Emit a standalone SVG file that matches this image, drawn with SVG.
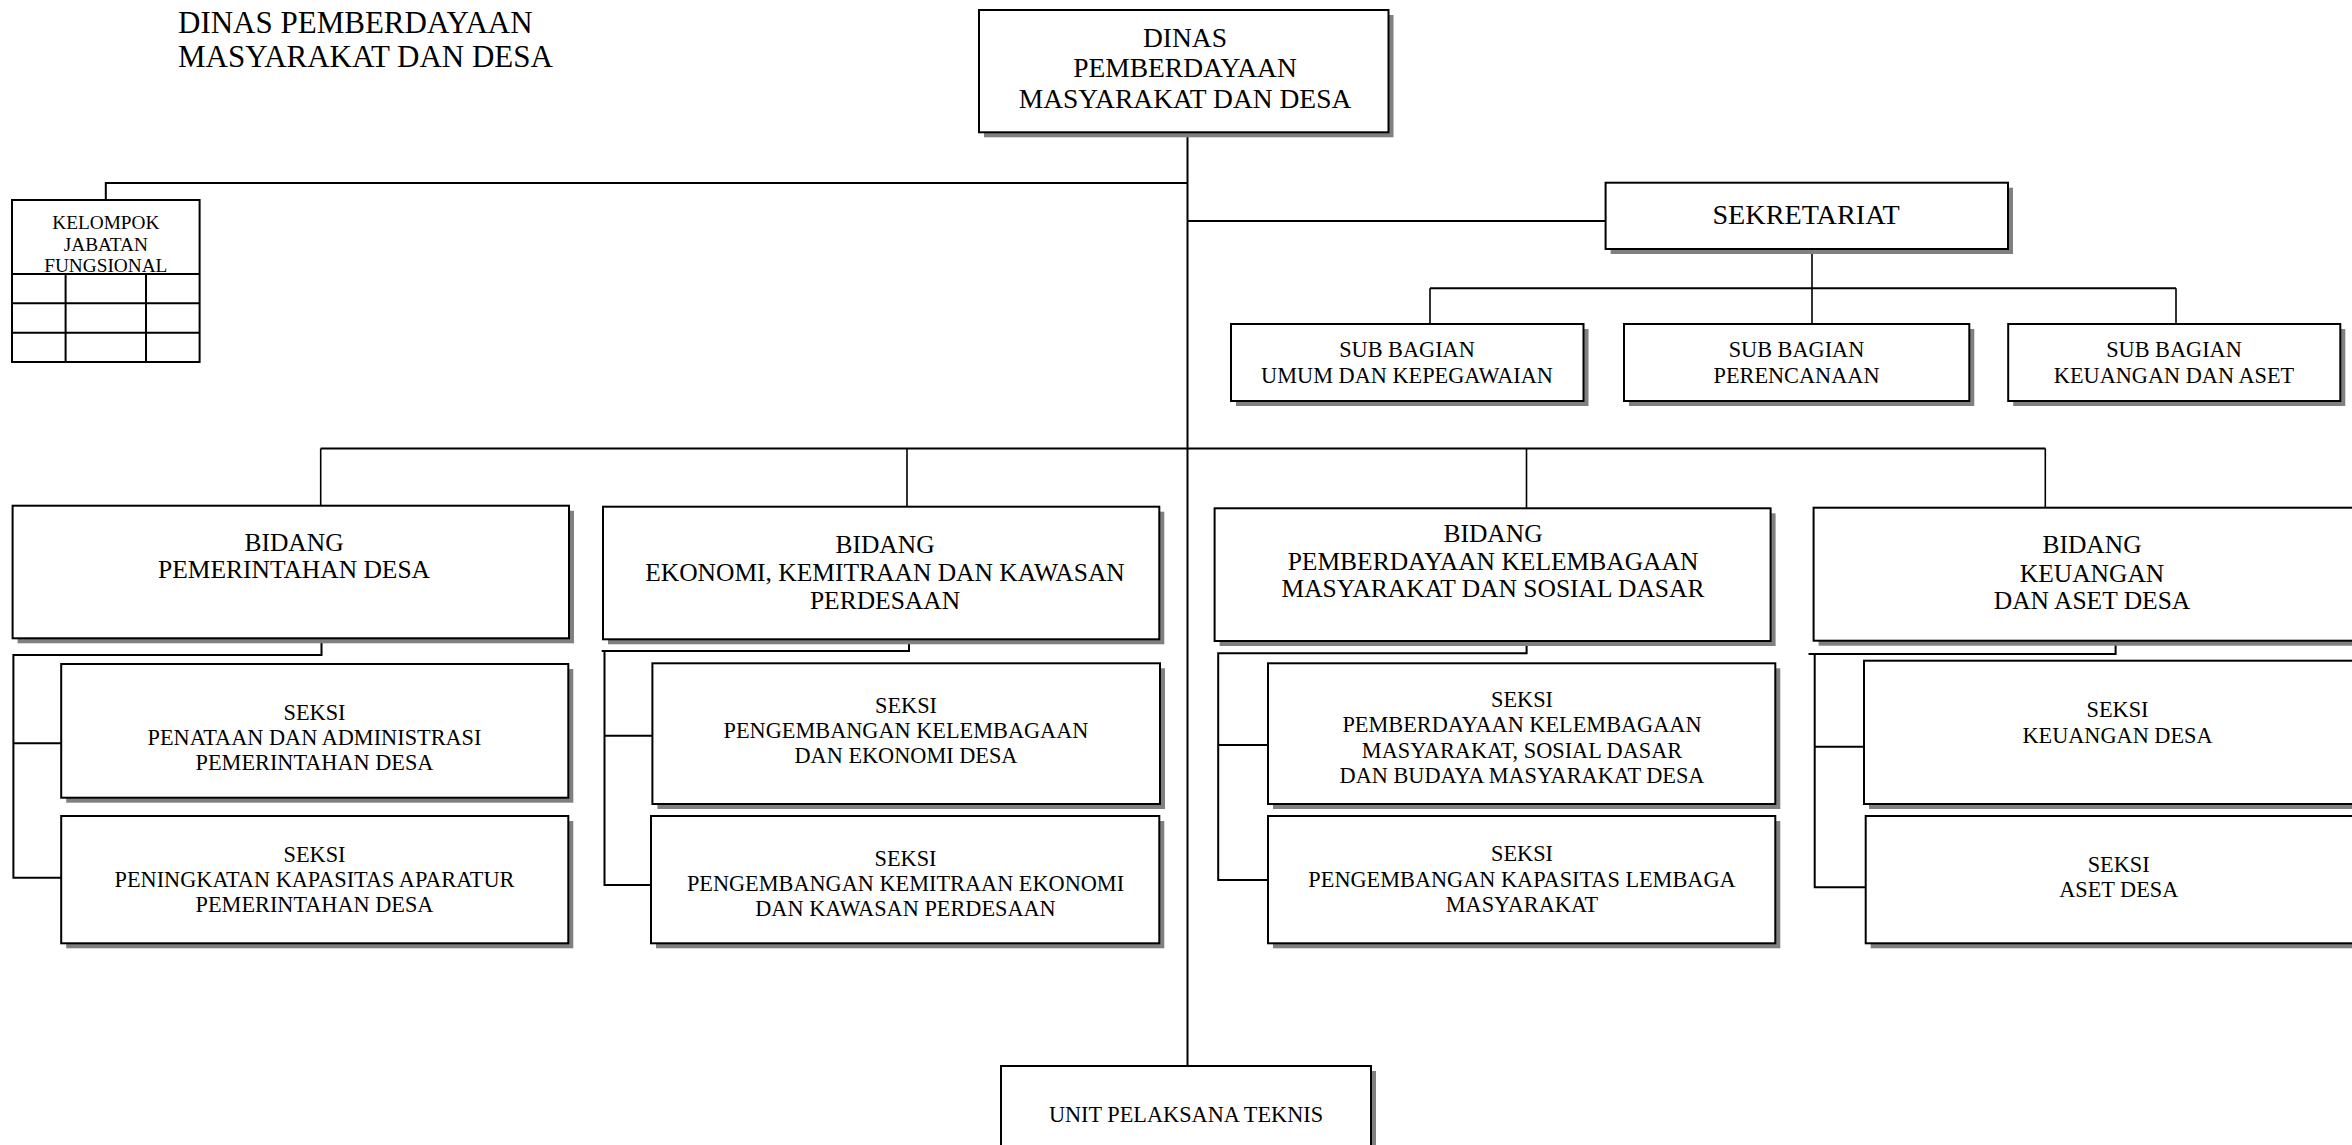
<svg xmlns="http://www.w3.org/2000/svg" width="2352" height="1145" viewBox="0 0 2352 1145">
<style>
text{font-family:"Liberation Serif","Times New Roman",serif;fill:#000;text-anchor:middle}
.box{fill:#fff;stroke:#000;stroke-width:2}
.sh{fill:#808080}
.ln{fill:none;stroke:#000;stroke-width:2}
.thin{fill:none;stroke:#000;stroke-width:1.6}
.t30{font-size:31px;text-anchor:start}
.t27{font-size:27.5px}
.t28{font-size:28.2px}
.t25{font-size:25.5px}
.t22{font-size:22.3px}
.t19{font-size:19.3px}
</style>
<rect width="2352" height="1145" fill="#fff"/>
<g id="title">
<text class="t30" x="178" y="33">DINAS PEMBERDAYAAN</text>
<text class="t30" x="178" y="67">MASYARAKAT DAN DESA</text>
</g>
<g id="connectors">
<path class="ln" d="M1187.5,132 V1066"/>
<path class="ln" d="M1187.5,183 H105.8 V200"/>
<path class="ln" d="M1187.5,221 H1605.6"/>
<path class="thin" d="M1812,249 V324"/>
<path class="ln" d="M1430,288.3 H2176"/>
<path class="thin" d="M1430,288.3 V324 M2176,288.3 V324"/>
<path class="ln" d="M320.7,448.5 H2045.4"/>
<path class="thin" d="M320.7,448.5 V505.7 M907,448.5 V506.7 M1526.5,448.5 V508.3 M2045.3,448.5 V507.7"/>
<path class="ln" d="M321.5,629 V655 H13.4 V877.7 H61.2 M13.4,743.3 H61.2"/>
<path class="ln" d="M909,640 V651 H601.7 M604.5,651 V885 H651 M604.5,735.7 H652.4"/>
<path class="ln" d="M1526.6,641 V653.3 H1218.2 V880 H1268 M1218.2,745 H1268"/>
<path class="ln" d="M2115.6,641 V654 H1808.5 M1814.7,654 V887.3 H1865.7 M1814.7,746.7 H1864"/>
</g>
<g id="dinas">
<rect class="sh" x="984" y="15" width="409.5" height="122.3"/>
<rect class="box" x="979" y="10" width="409.5" height="122.3"/>
<text class="t27" x="1185" y="46.7">DINAS</text>
<text class="t27" x="1185" y="77.3">PEMBERDAYAAN</text>
<text class="t27" x="1185" y="108.3">MASYARAKAT DAN DESA</text>
</g>
<g id="kjf">
<rect class="box" x="12" y="200" width="187.6" height="162"/>
<path class="ln" d="M12,274 H199.6 M12,303.3 H199.6 M12,332.7 H199.6 M65.6,274 V362 M146,274 V362"/>
<text class="t19" x="105.8" y="229.3">KELOMPOK</text>
<text class="t19" x="105.8" y="250.7">JABATAN</text>
<text class="t19" x="105.8" y="271.7">FUNGSIONAL</text>
</g>
<g id="sekretariat">
<rect class="sh" x="1610.6" y="187.7" width="402.4" height="66.3"/>
<rect class="box" x="1605.6" y="182.7" width="402.4" height="66.3"/>
<text class="t28" x="1806" y="224">SEKRETARIAT</text>
</g>
<g id="sub-umum">
<rect class="sh" x="1236" y="329" width="352.5" height="77"/>
<rect class="box" x="1231" y="324" width="352.5" height="77"/>
<text class="t22" x="1407" y="356.7">SUB BAGIAN</text>
<text class="t22" x="1407" y="382.7">UMUM DAN KEPEGAWAIAN</text>
</g>
<g id="sub-perencanaan">
<rect class="sh" x="1629" y="329" width="345.3" height="77"/>
<rect class="box" x="1624" y="324" width="345.3" height="77"/>
<text class="t22" x="1796.5" y="356.7">SUB BAGIAN</text>
<text class="t22" x="1796.5" y="382.7">PERENCANAAN</text>
</g>
<g id="sub-keuangan">
<rect class="sh" x="2013.2" y="329" width="332.1" height="77"/>
<rect class="box" x="2008.2" y="324" width="332.1" height="77"/>
<text class="t22" x="2174" y="356.7">SUB BAGIAN</text>
<text class="t22" x="2174" y="382.7">KEUANGAN DAN ASET</text>
</g>
<g id="bidang-pemerintahan">
<rect class="sh" x="17.6" y="510.7" width="556.4" height="132.6"/>
<rect class="box" x="12.6" y="505.7" width="556.4" height="132.6"/>
<text class="t25" x="294" y="550.7">BIDANG</text>
<text class="t25" x="294" y="578.3">PEMERINTAHAN DESA</text>
</g>
<g id="seksi-penataan">
<rect class="sh" x="66.2" y="669" width="507.1" height="133.7"/>
<rect class="box" x="61.2" y="664" width="507.1" height="133.7"/>
<text class="t22" x="314.5" y="720">SEKSI</text>
<text class="t22" x="314.5" y="745">PENATAAN DAN ADMINISTRASI</text>
<text class="t22" x="314.5" y="770">PEMERINTAHAN DESA</text>
</g>
<g id="seksi-peningkatan">
<rect class="sh" x="66.2" y="821" width="507.1" height="127.3"/>
<rect class="box" x="61.2" y="816" width="507.1" height="127.3"/>
<text class="t22" x="314.5" y="861.7">SEKSI</text>
<text class="t22" x="314.5" y="886.7">PENINGKATAN KAPASITAS APARATUR</text>
<text class="t22" x="314.5" y="911.7">PEMERINTAHAN DESA</text>
</g>
<g id="bidang-ekonomi">
<rect class="sh" x="608" y="511.7" width="556.3" height="132.6"/>
<rect class="box" x="603" y="506.7" width="556.3" height="132.6"/>
<text class="t25" x="885" y="552.7">BIDANG</text>
<text class="t25" x="885" y="580.7">EKONOMI, KEMITRAAN DAN KAWASAN</text>
<text class="t25" x="885" y="609.3">PERDESAAN</text>
</g>
<g id="seksi-kelembagaan-ekonomi">
<rect class="sh" x="657.4" y="668.3" width="507.6" height="140.7"/>
<rect class="box" x="652.4" y="663.3" width="507.6" height="140.7"/>
<text class="t22" x="906" y="713.3">SEKSI</text>
<text class="t22" x="906" y="738.3">PENGEMBANGAN KELEMBAGAAN</text>
<text class="t22" x="906" y="763.3">DAN EKONOMI DESA</text>
</g>
<g id="seksi-kemitraan">
<rect class="sh" x="656" y="821" width="508.3" height="127.3"/>
<rect class="box" x="651" y="816" width="508.3" height="127.3"/>
<text class="t22" x="905.5" y="866">SEKSI</text>
<text class="t22" x="905.5" y="890.7">PENGEMBANGAN KEMITRAAN EKONOMI</text>
<text class="t22" x="905.5" y="916">DAN KAWASAN PERDESAAN</text>
</g>
<g id="bidang-pkm">
<rect class="sh" x="1219.6" y="513.3" width="556" height="132.7"/>
<rect class="box" x="1214.6" y="508.3" width="556" height="132.7"/>
<text class="t25" x="1493" y="541.7">BIDANG</text>
<text class="t25" x="1493" y="570">PEMBERDAYAAN KELEMBAGAAN</text>
<text class="t25" x="1493" y="597.3">MASYARAKAT DAN SOSIAL DASAR</text>
</g>
<g id="seksi-pemberdayaan">
<rect class="sh" x="1273" y="668.3" width="507.3" height="140.7"/>
<rect class="box" x="1268" y="663.3" width="507.3" height="140.7"/>
<text class="t22" x="1522" y="706.7">SEKSI</text>
<text class="t22" x="1522" y="731.7">PEMBERDAYAAN KELEMBAGAAN</text>
<text class="t22" x="1522" y="757.7">MASYARAKAT, SOSIAL DASAR</text>
<text class="t22" x="1522" y="782.7">DAN BUDAYA MASYARAKAT DESA</text>
</g>
<g id="seksi-kapasitas-lembaga">
<rect class="sh" x="1273" y="821" width="507.3" height="127.3"/>
<rect class="box" x="1268" y="816" width="507.3" height="127.3"/>
<text class="t22" x="1522" y="861">SEKSI</text>
<text class="t22" x="1522" y="886.7">PENGEMBANGAN KAPASITAS LEMBAGA</text>
<text class="t22" x="1522" y="912.3">MASYARAKAT</text>
</g>
<g id="bidang-keuangan">
<rect class="sh" x="1818.6" y="512.7" width="556.4" height="133"/>
<rect class="box" x="1813.6" y="507.7" width="556.4" height="133"/>
<text class="t25" x="2092" y="553.3">BIDANG</text>
<text class="t25" x="2092" y="581.7">KEUANGAN</text>
<text class="t25" x="2092" y="609.3">DAN ASET DESA</text>
</g>
<g id="seksi-keuangan-desa">
<rect class="sh" x="1869" y="665.7" width="506" height="143.3"/>
<rect class="box" x="1864" y="660.7" width="506" height="143.3"/>
<text class="t22" x="2117.5" y="716.7">SEKSI</text>
<text class="t22" x="2117.5" y="742.7">KEUANGAN DESA</text>
</g>
<g id="seksi-aset-desa">
<rect class="sh" x="1870.7" y="821" width="504.3" height="127.3"/>
<rect class="box" x="1865.7" y="816" width="504.3" height="127.3"/>
<text class="t22" x="2118.7" y="871.7">SEKSI</text>
<text class="t22" x="2118.7" y="896.7">ASET DESA</text>
</g>
<g id="upt">
<rect class="sh" x="1006" y="1071" width="370" height="100"/>
<rect class="box" x="1001" y="1066" width="370" height="100"/>
<text class="t22" x="1186" y="1122">UNIT PELAKSANA TEKNIS</text>
</g>
</svg>
